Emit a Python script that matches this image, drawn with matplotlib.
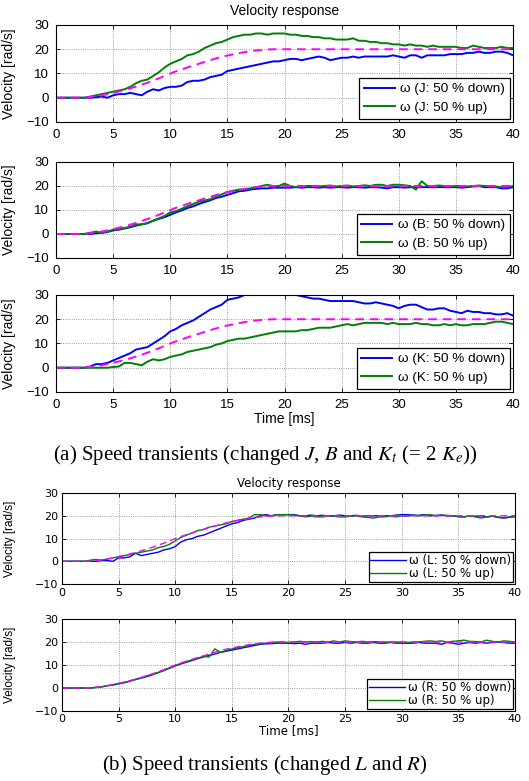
import numpy as np
import matplotlib
matplotlib.use("Agg")
import matplotlib.pyplot as plt

plt.rcParams['font.family'] = ['Liberation Sans', 'DejaVu Sans']
plt.rcParams['mathtext.fontset'] = 'stix'

# sample times [ms]
time_ms = np.linspace(0, 40, 81)

# reference speed (magenta dashed), 0.5 ms steps
ref_speed = [0, 0, 0, 0, 0, 0.1, 0.3, 0.6, 1.0, 1.5,
             2.0, 2.6, 3.2, 3.9, 4.6, 5.4, 6.2, 7.1, 8.0, 9.0,
             10.0, 10.9, 11.7, 12.5, 13.3, 14.0, 14.8, 15.5, 16.2, 16.9,
             17.4, 17.9, 18.4, 18.8, 19.2, 19.5, 19.7, 19.9, 20, 20,
             20, 20, 20, 20, 20, 20, 20, 20, 20, 20,
             20, 20, 20, 20, 20, 20, 20, 20, 20, 20,
             20, 20, 20, 20, 20, 20, 20, 20, 20, 20,
             20, 20, 20, 20, 20, 20, 20, 20, 20, 20,
             20]

J_down = [0, 0, 0, 0, 0, 0, 0, 0.2, 0.5, 0,
          1.0, 1.5, 1.5, 2.0, 1.5, 1.0, 2.5, 3.5, 3.0, 4.0,
          4.5, 4.5, 5.0, 6.5, 7.0, 7.0, 7.5, 8.5, 9.0, 9.5,
          11.0, 11.5, 12.0, 12.5, 13.0, 13.5, 14.0, 14.5, 15.0, 15.0,
          15.5, 16.0, 16.0, 15.5, 16.0, 16.5, 17.0, 16.5, 15.5, 16.0,
          16.5, 16.5, 17.0, 16.5, 17.0, 17.0, 17.0, 17.0, 17.0, 17.5,
          17.0, 16.5, 17.5, 17.5, 16.5, 17.5, 17.5, 17.5, 17.5, 18.0,
          18.0, 18.0, 18.5, 18.5, 19.0, 18.5, 18.5, 19.0, 19.0, 18.5,
          17.5]
J_up = [0, 0, 0, 0, 0, 0, 0.5, 1.0, 1.5, 2.0,
        2.5, 3.0, 3.5, 4.5, 6.0, 7.0, 7.5, 9.0, 10.5, 12.5,
        14.0, 15.0, 16.0, 17.5, 18.0, 19.0, 20.5, 21.5, 22.5, 23.0,
        24.0, 25.0, 25.5, 26.0, 26.0, 26.5, 26.5, 26.0, 26.5, 26.5,
        26.5, 26.0, 26.0, 25.5, 25.5, 25.0, 25.0, 24.5, 24.5, 24.0,
        24.0, 24.0, 24.5, 23.5, 23.5, 23.0, 23.0, 22.5, 22.5, 22.0,
        22.0, 21.5, 22.0, 21.5, 21.5, 21.0, 21.5, 21.0, 21.0, 21.0,
        21.0, 20.5, 20.5, 21.5, 21.0, 20.5, 20.5, 20.5, 21.0, 20.5,
        20.5]

B_down = [0, 0, 0, 0, 0, 0, 0, 0.3, 0.5, 0.8,
          1.5, 1.8, 2.3, 2.8, 3.5, 4.0, 4.5, 5.5, 6.3, 7.0,
          8.0, 9.0, 9.8, 10.8, 11.5, 12.5, 13.3, 14.0, 15.0, 15.5,
          16.3, 17.0, 17.8, 18.0, 18.5, 18.8, 19.0, 19.0, 19.3, 19.3,
          19.3, 19.3, 19.5, 19.3, 19.5, 19.5, 19.3, 19.5, 19.3, 19.5,
          19.5, 19.3, 19.5, 19.5, 19.3, 19.5, 19.5, 19.3, 19.0, 19.5,
          19.5, 19.3, 19.5, 19.5, 19.5, 19.5, 19.5, 19.5, 19.5, 19.5,
          19.5, 19.3, 19.5, 19.8, 20.0, 19.5, 19.5, 19.5, 19.0, 19.0,
          19.5]
B_up = [0, 0, 0, 0, 0, 0, 0.5, 1.0, 0.5, 1.0,
        1.8, 2.0, 2.5, 3.0, 4.0, 4.0, 4.5, 5.5, 6.5, 7.5,
        9.0, 9.5, 10.5, 11.5, 12.5, 13.5, 14.0, 14.5, 15.5, 16.5,
        17.5, 18.0, 18.5, 18.5, 19.0, 19.5, 20.0, 20.5, 20.0, 20.0,
        21.0, 20.0, 19.5, 19.8, 20.0, 20.0, 19.8, 20.0, 20.2, 19.8,
        20.0, 20.2, 19.8, 20.0, 20.3, 20.0, 20.5, 20.5, 20.0, 20.5,
        20.5, 20.3, 20.0, 18.5, 22.0, 20.0, 20.0, 20.2, 20.0, 19.8,
        20.0, 20.0, 19.8, 20.0, 20.2, 20.0, 19.8, 19.8, 19.5, 19.5,
        20.0]

K_down = [0, 0, 0, 0, 0, 0, 0.5, 1.5, 1.5, 2.0,
          3.0, 4.0, 5.0, 6.0, 7.5, 8.0, 8.5, 10.0, 11.5, 13.0,
          15.0, 16.0, 17.5, 18.5, 19.5, 21.0, 22.5, 24.0, 25.0, 26.0,
          28.0, 28.5, 29.0, 30.0, 31.0, 31.5, 32.0, 32.0, 32.0, 31.5,
          31.5, 31.0, 30.0, 29.5, 29.0, 28.5, 28.5, 28.0, 27.5, 27.5,
          27.5, 27.5, 27.5, 27.0, 26.5, 26.5, 27.0, 26.5, 26.0, 25.5,
          24.5, 25.5, 26.0, 26.0, 25.0, 24.0, 24.0, 24.5, 24.5, 23.5,
          23.0, 22.5, 23.5, 23.0, 23.0, 22.5, 22.5, 22.0, 22.0, 22.5,
          21.5]
K_up = [0, 0, 0, 0, 0, 0, 0, 0, 0, 0,
        0.3, 0.5, 2.0, 2.0, 1.5, 1.0, 2.5, 3.5, 3.0, 3.5,
        4.5, 5.0, 5.5, 6.5, 7.0, 7.5, 8.0, 8.5, 9.5, 10.0,
        11.0, 11.5, 12.0, 12.0, 12.5, 13.0, 13.5, 14.0, 14.5, 15.0,
        15.0, 15.0, 15.0, 15.5, 15.5, 16.0, 16.5, 16.5, 16.5, 17.0,
        17.5, 18.0, 17.5, 18.0, 18.5, 18.5, 18.5, 18.5, 18.0, 18.5,
        18.0, 18.0, 18.0, 18.5, 18.0, 18.0, 17.5, 17.5, 18.0, 17.5,
        18.0, 17.5, 17.5, 18.0, 18.0, 18.0, 18.5, 19.0, 19.0, 18.5,
        18.0]

L_down = [0, 0, 0, 0, 0, 0, 0, 0.3, 0.3, 0,
          1.5, 1.5, 2.0, 3.5, 2.5, 3.0, 3.5, 4.0, 5.0, 5.5,
          6.5, 8.5, 9.5, 10.0, 11.0, 11.5, 12.5, 13.5, 14.5, 15.5,
          16.5, 17.0, 18.0, 18.5, 19.0, 20.0, 20.5, 20.0, 20.5, 20.5,
          20.5, 20.5, 20.0, 20.0, 20.3, 20.0, 20.2, 20.0, 20.0, 20.3,
          20.0, 20.0, 20.2, 19.8, 20.0, 20.0, 20.0, 20.0, 20.0, 20.3,
          20.5, 20.5, 20.3, 20.2, 20.5, 20.0, 20.2, 20.3, 20.0, 20.0,
          19.8, 19.5, 20.0, 19.8, 20.0, 19.5, 19.8, 19.3, 19.0, 19.5,
          19.5]
L_up = [0, 0, 0, 0, 0, 0.5, 0.8, 0.5, 1.0, 1.5,
        2.0, 2.5, 3.0, 3.5, 4.0, 4.5, 5.0, 6.0, 6.5, 7.5,
        9.0, 10.5, 11.5, 12.5, 13.5, 14.0, 15.0, 15.5, 16.0, 16.5,
        17.5, 18.0, 18.5, 19.0, 20.5, 20.5, 20.0, 20.0, 20.5, 20.5,
        20.5, 20.2, 20.0, 19.5, 19.8, 19.5, 19.5, 20.0, 19.8, 19.5,
        19.5, 19.8, 20.0, 19.5, 19.3, 19.0, 19.5, 19.5, 20.0, 19.5,
        20.0, 19.8, 20.3, 20.0, 20.3, 20.5, 20.0, 20.3, 20.2, 20.0,
        19.5, 19.5, 20.0, 19.5, 19.0, 19.5, 19.8, 19.5, 19.0, 19.3,
        19.8]

R_down = [0, 0, 0, 0, 0, 0, 0.3, 0.5, 1.0, 1.3,
          1.8, 2.3, 3.0, 3.7, 4.3, 5.0, 5.8, 6.7, 7.6, 8.6,
          9.6, 10.5, 11.2, 12.0, 12.8, 13.5, 14.2, 14.8, 15.5, 16.0,
          16.5, 17.0, 17.5, 18.0, 18.5, 19.0, 19.2, 19.3, 19.5, 19.5,
          19.5, 19.3, 19.5, 19.0, 19.5, 19.5, 19.5, 19.8, 19.5, 19.5,
          19.8, 19.5, 19.8, 19.5, 19.5, 19.8, 19.5, 19.5, 19.8, 19.5,
          19.5, 19.5, 19.5, 19.8, 19.5, 19.5, 19.5, 19.0, 19.8, 19.5,
          19.0, 19.5, 19.8, 19.5, 19.8, 19.5, 19.8, 20.0, 19.8, 19.5,
          19.5]
R_up = [0, 0, 0, 0, 0, 0, 0.2, 0.5, 1.0, 1.5,
        2.0, 2.5, 3.0, 3.8, 4.5, 5.3, 6.0, 6.8, 7.8, 8.8,
        9.8, 10.7, 11.5, 12.3, 13.0, 13.8, 13.5, 17.0, 15.5, 16.3,
        17.0, 17.5, 18.0, 18.5, 19.0, 19.3, 19.5, 19.8, 20.0, 20.0,
        19.8, 20.0, 20.3, 20.0, 20.2, 20.0, 20.3, 20.0, 20.5, 20.0,
        20.5, 20.2, 20.0, 20.3, 20.0, 20.2, 20.0, 20.0, 20.0, 20.0,
        20.0, 19.8, 20.0, 20.0, 20.3, 20.5, 20.2, 20.5, 20.0, 20.3,
        20.5, 20.8, 20.3, 20.2, 20.0, 20.8, 20.3, 20.0, 20.5, 20.3,
        20.0]

panels_a = [("J", J_down, J_up), ("B", B_down, B_up), ("K", K_down, K_up)]
panels_b = [("L", L_down, L_up), ("R", R_down, R_up)]

x_ticks = [0, 5, 10, 15, 20, 25, 30, 35, 40]
y_ticks = [-10, 0, 10, 20, 30]

BLUE = "#0000ff"
GREEN = "#008000"
MAGENTA = "#ff00ff"

fig = plt.figure(figsize=(5.29, 7.81), dpi=100)

rects_a = [[0.1059, 0.8438, 0.8639, 0.1242],
           [0.1059, 0.6697, 0.8639, 0.1229],
           [0.1059, 0.4981, 0.8639, 0.1242]]
rects_b = [[0.1172, 0.2522, 0.8563, 0.1165],
           [0.1172, 0.0896, 0.8563, 0.1178]]


def base_style(ax, fam, size, pad):
    ax.set_xlim(0, 40)
    ax.set_ylim(-10, 30)
    ax.set_xticks(x_ticks)
    ax.set_yticks(y_ticks)
    ax.grid(True, linestyle=":", color="#808080", linewidth=0.6)
    ax.set_axisbelow(True)
    ax.tick_params(direction="in", top=True, right=True, length=3,
                   width=0.6, labelsize=size, pad=pad,
                   labelfontfamily=fam)
    for s in ax.spines.values():
        s.set_linewidth(0.8)


# ---- part (a) ----
for i, (name, down, up) in enumerate(panels_a):
    ax = fig.add_axes(rects_a[i])
    base_style(ax, "Liberation Sans", 9.5, 5)
    ax.plot(time_ms, down, color=BLUE, lw=1.4, label="ω (%s: 50 %% down)" % name)
    ax.plot(time_ms, up, color=GREEN, lw=1.4, label="ω (%s: 50 %% up)" % name)
    ax.plot(time_ms, ref_speed, color=MAGENTA, lw=1.4, dashes=(4.5, 3))
    ax.set_ylabel("Velocity [rad/s]", fontsize=10, family="Liberation Sans")
    ax.yaxis.set_label_coords(-0.088, 0.5)
    if i == 0:
        ax.set_title("Velocity response", fontsize=10, pad=7,
                     family="Liberation Sans")
    if i == 2:
        ax.set_xlabel("Time [ms]", fontsize=10, labelpad=1,
                      family="Liberation Sans")
    leg = ax.legend(loc="lower right", prop={"family": "Liberation Sans", "size": 9.7},
                    fancybox=False, edgecolor="black", framealpha=1,
                    borderaxespad=0.25, handlelength=2.3, handletextpad=0.4,
                    labelspacing=0.45, borderpad=0.35)
    leg.get_frame().set_linewidth(0.9)

fig.text(0.502, 1 - 455 / 781,
         r"(a) Speed transients (changed $J$, $B$ and $K_t$ (= 2 $K_e$))",
         ha="center", va="center", fontsize=15, family="Liberation Serif")

# ---- part (b) ----
for i, (name, down, up) in enumerate(panels_b):
    ax = fig.add_axes(rects_b[i])
    base_style(ax, "DejaVu Sans", 8, 2.5)
    ax.plot(time_ms, down, color=BLUE, lw=1.0, label="ω (%s: 50 %% down)" % name)
    ax.plot(time_ms, up, color=GREEN, lw=1.0, label="ω (%s: 50 %% up)" % name)
    ax.plot(time_ms, ref_speed, color=MAGENTA, lw=1.0, dashes=(5, 3))
    ax.set_ylabel("Velocity [rad/s]", fontsize=8.5, family="Liberation Sans")
    ax.yaxis.set_label_coords(-0.1015, 0.5)
    if i == 0:
        ax.set_title("Velocity response", fontsize=8.5, pad=4,
                     family="DejaVu Sans")
    if i == 1:
        ax.set_xlabel("Time [ms]", fontsize=8.5, labelpad=0,
                      family="DejaVu Sans")
    leg = ax.legend(loc="lower right", prop={"family": "DejaVu Sans", "size": 8.5},
                    fancybox=False, edgecolor="black", framealpha=1,
                    borderaxespad=0.15, handlelength=3.0, handletextpad=0.3,
                    labelspacing=0.05, borderpad=0.15)
    leg.get_frame().set_linewidth(0.9)

fig.text(0.501, 4 / 781,
         r"(b) Speed transients (changed $L$ and $R$)",
         ha="center", va="bottom", fontsize=15, family="Liberation Serif")

fig.savefig("out.png", dpi=100)
